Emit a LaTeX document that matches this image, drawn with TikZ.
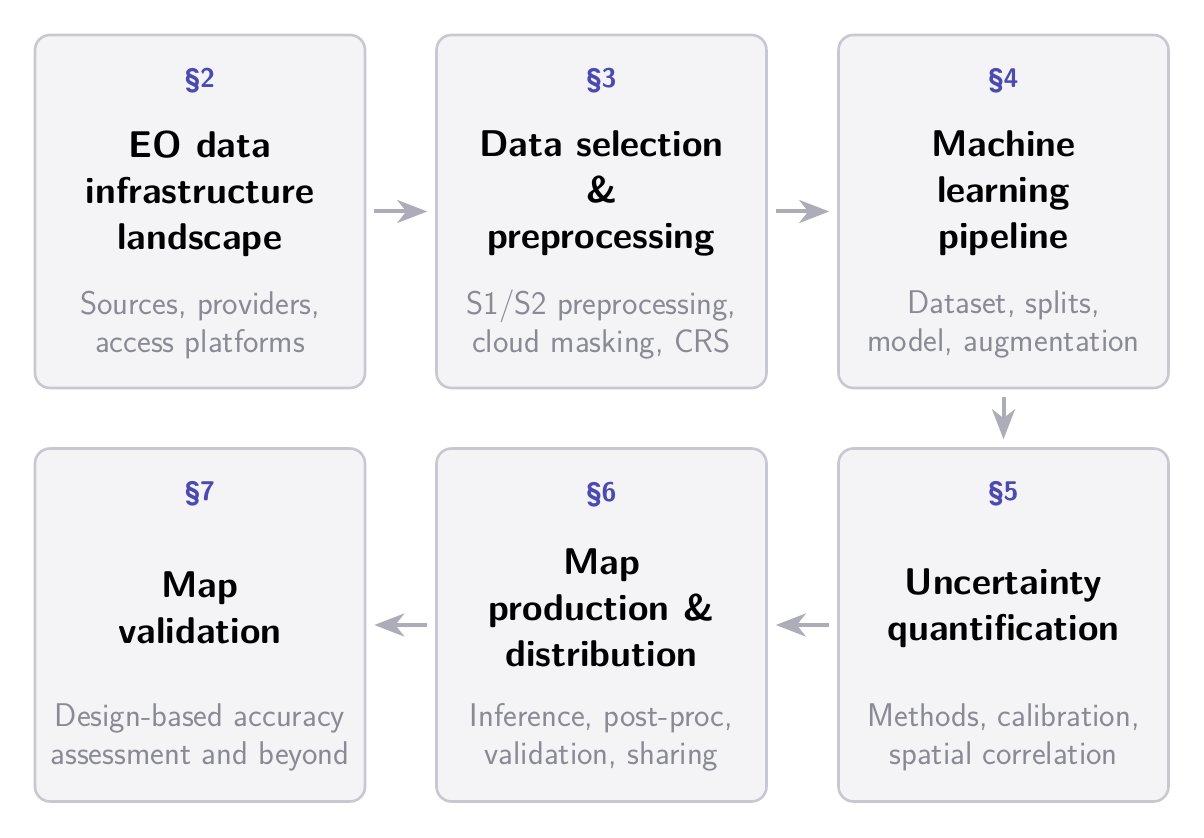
\documentclass[tikz,border=0pt]{standalone}
\usetikzlibrary{arrows.meta}
\definecolor{boxfill}{HTML}{F4F4F7}
\definecolor{boxline}{HTML}{C8C8D2}
\definecolor{seccol}{HTML}{4A4AB2}
\definecolor{subcol}{HTML}{8A8A94}
\definecolor{arrcol}{HTML}{ADADB9}
\tikzset{
  stagebox/.style={draw=boxline, fill=boxfill, line width=1.3pt, rounded corners=7.5pt,
    minimum width=165pt, minimum height=176.5pt, inner sep=0pt},
  seclabel/.style={text=seccol, font=\sffamily\bfseries\fontsize{13.5}{15}\selectfont, inner sep=0pt},
  titletext/.style={text=black, font=\sffamily\bfseries\fontsize{18.6}{23}\selectfont, align=center, inner sep=0pt},
  subtext/.style={text=subcol, font=\sffamily\fontsize{16.4}{19}\selectfont, align=center, inner sep=0pt},
  flowarrow/.style={draw=arrcol, line width=2pt, shorten <=4pt, shorten >=4pt,
    -{Stealth[length=15pt, width=11.5pt, inset=4.5pt]}}
}
\begin{document}
\begin{tikzpicture}[x=0.5pt, y=-0.5pt]
\useasboundingbox (0,0) rectangle (1204,838);
% boxes
\node[stagebox] (b2) at (200,211.5) {};
\node[stagebox] (b3) at (601.5,211.5) {};
\node[stagebox] (b4) at (1003.5,211.5) {};
\node[stagebox] (b5) at (1003.5,625) {};
\node[stagebox] (b6) at (601.5,625) {};
\node[stagebox] (b7) at (200,625) {};
% section labels
\foreach \b/\s in {b2/2,b3/3,b4/4,b5/5,b6/6,b7/7}{
  \node[seclabel] (s\s) at ([yshift=-23.5pt]\b.north) {\S\s};
}
% titles
\node[titletext] (t2) at ([yshift=-80pt]b2.north) {EO data\\infrastructure\\landscape};
\node[titletext] (t3) at ([yshift=-80pt]b3.north) {Data selection\\\&\\preprocessing};
\node[titletext] (t4) at ([yshift=-80pt]b4.north) {Machine\\learning\\pipeline};
\node[titletext] (t5) at ([yshift=-80.5pt]b5.north) {Uncertainty\\quantification};
\node[titletext] (t6) at ([yshift=-80.5pt]b6.north) {Map\\production \&\\distribution};
\node[titletext] (t7) at ([yshift=-80.5pt]b7.north) {Map\\validation};
% subtitles
\node[subtext] (u2) at ([yshift=-145.5pt]b2.north) {Sources, providers,\\access platforms};
\node[subtext] (u3) at ([yshift=-145.5pt]b3.north) {S1/S2 preprocessing,\\cloud masking, CRS};
\node[subtext] (u4) at ([yshift=-145.5pt]b4.north) {Dataset, splits,\\model, augmentation};
\node[subtext] (u5) at ([yshift=-145.3pt]b5.north) {Methods, calibration,\\spatial correlation};
\node[subtext] (u6) at ([yshift=-145.3pt]b6.north) {Inference, post-proc,\\validation, sharing};
\node[subtext] (u7) at ([yshift=-145.3pt]b7.north) {Design-based accuracy\\assessment and beyond};
% arrows
\draw[flowarrow] (b2) -- (b3);
\draw[flowarrow] (b3) -- (b4);
\draw[flowarrow] (b4) -- (b5);
\draw[flowarrow] (b5) -- (b6);
\draw[flowarrow] (b6) -- (b7);
\end{tikzpicture}
\end{document}
